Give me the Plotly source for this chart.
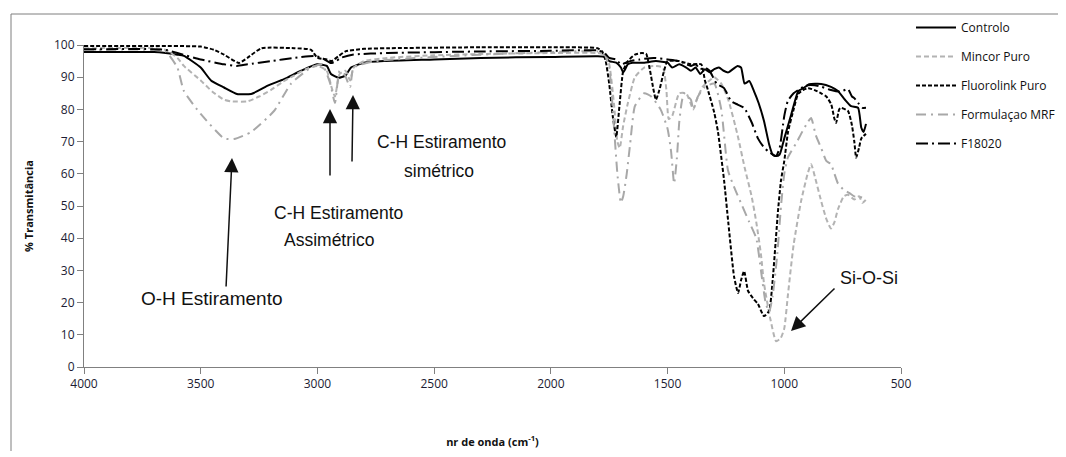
import plotly.graph_objects as go

# ---------------- data ----------------
controlo_wn = [4000, 3700, 3650, 3600, 3572, 3500, 3456, 3400, 3345, 3284, 3215, 3143, 3070, 3002, 2960, 2942, 2910, 2880, 2856, 2800, 2715, 2500, 2300, 2000, 1800, 1770, 1750, 1720, 1700, 1690, 1670, 1650, 1600, 1550, 1500, 1480, 1450, 1420, 1400, 1380, 1360, 1340, 1320, 1300, 1280, 1260, 1240, 1220, 1200, 1185, 1170, 1150, 1130, 1110, 1087, 1065, 1050, 1035, 1020, 1000, 970, 940, 920, 893, 842, 800, 770, 740, 714, 684, 670, 660, 650]
controlo_t = [97.8, 97.8, 97.5, 97.0, 96.6, 93.0, 89.0, 86.8, 84.8, 84.8, 87.3, 89.4, 92.0, 94.0, 93.5, 91.0, 89.8, 90.5, 93.0, 94.5, 95.0, 95.5, 96.0, 96.3, 96.5, 96.3, 95.0, 94.5, 93.0, 91.5, 94.0, 94.5, 94.5, 95.0, 94.5, 93.0, 94.0, 93.0, 92.0, 93.0, 91.0, 92.5, 91.5, 92.5, 93.0, 92.0, 91.5, 92.5, 93.5, 93.0, 88.0, 88.8, 85.7, 82.0, 76.4, 69.2, 66.0, 65.5, 66.0, 71.0, 78.5, 85.7, 86.5, 87.8, 87.9, 87.0, 85.7, 83.0, 81.0, 80.5, 74.3, 73.0, 75.5]

mincor_wn = [4000, 3700, 3650, 3600, 3572, 3500, 3450, 3400, 3370, 3300, 3250, 3200, 3150, 3100, 3050, 3000, 2960, 2940, 2925, 2905, 2880, 2860, 2845, 2800, 2700, 2500, 2300, 2000, 1800, 1770, 1750, 1730, 1715, 1705, 1690, 1670, 1640, 1600, 1560, 1520, 1505, 1495, 1480, 1450, 1420, 1390, 1375, 1350, 1320, 1300, 1270, 1240, 1200, 1170, 1140, 1120, 1100, 1087, 1060, 1035, 1015, 1000, 985, 960, 928, 900, 885, 865, 842, 820, 800, 785, 770, 745, 727, 700, 680, 665, 650]
mincor_t = [99.0, 99.0, 98.5, 96.0, 93.5, 89.0, 85.5, 83.0, 82.5, 82.5, 84.0, 86.0, 88.5, 90.5, 92.5, 93.5, 92.0, 87.0, 84.0, 91.0, 92.0, 89.0, 93.0, 95.0, 96.0, 96.8, 97.2, 97.5, 97.5, 97.0, 94.0, 82.0, 70.0, 68.0, 75.0, 82.0, 90.0, 93.0, 93.5, 93.0, 86.0, 77.0, 78.0, 85.0, 85.0, 80.0, 83.0, 87.0, 89.0, 90.0, 88.0, 83.0, 72.0, 62.0, 53.0, 45.0, 35.0, 26.0, 15.0, 8.0, 9.0, 12.0, 22.0, 38.0, 51.5, 60.0, 63.0, 58.0, 51.5, 46.0, 43.0, 45.0, 49.0, 53.0, 53.5, 52.0, 53.0, 51.0, 52.0]

fluoro_wn = [4000, 3700, 3500, 3443, 3400, 3336, 3300, 3240, 3100, 3027, 3000, 2960, 2940, 2910, 2880, 2800, 2700, 2300, 2000, 1800, 1780, 1765, 1750, 1735, 1720, 1705, 1690, 1670, 1640, 1610, 1592, 1575, 1560, 1550, 1535, 1515, 1500, 1450, 1400, 1356, 1340, 1327, 1300, 1284, 1258, 1240, 1215, 1198, 1185, 1172, 1155, 1130, 1113, 1087, 1065, 1050, 1027, 1014, 1000, 984, 960, 941, 920, 898, 870, 842, 820, 799, 785, 778, 765, 757, 727, 710, 700, 692, 680, 670, 650]
fluoro_t = [99.7, 99.7, 99.5, 98.5, 97.0, 94.4, 96.0, 99.0, 99.0, 98.5, 96.0, 95.5, 95.0, 96.5, 98.0, 98.8, 99.0, 99.3, 99.3, 99.0, 98.0, 95.0, 88.0, 78.0, 71.5, 82.0, 92.0, 95.0, 97.0, 97.5, 97.3, 92.0, 86.0, 83.0, 86.0, 92.0, 95.0, 95.0, 94.0, 94.0, 89.0, 86.0, 79.0, 73.0, 58.0, 45.0, 28.0, 23.0, 27.0, 29.8, 23.6, 21.0, 19.6, 15.8, 17.4, 26.7, 48.4, 58.0, 64.0, 73.0, 80.0, 84.8, 86.0, 86.6, 86.0, 85.0, 84.0, 81.6, 77.0, 75.8, 80.0, 80.5, 79.5, 75.0, 70.0, 65.0, 68.0, 71.0, 72.4]

formul_wn = [4000, 3700, 3650, 3600, 3572, 3500, 3400, 3357, 3284, 3186, 3113, 3027, 2980, 2945, 2925, 2905, 2885, 2860, 2845, 2750, 2300, 2000, 1800, 1770, 1750, 1730, 1715, 1700, 1690, 1675, 1660, 1640, 1600, 1570, 1530, 1500, 1485, 1472, 1460, 1450, 1440, 1430, 1400, 1390, 1370, 1340, 1300, 1270, 1241, 1210, 1180, 1150, 1120, 1100, 1080, 1065, 1050, 1030, 1014, 1000, 985, 970, 945, 928, 900, 885, 865, 842, 820, 800, 785, 770, 745, 720, 700, 680, 650]
formul_t = [98.5, 98.5, 98.0, 93.0, 85.7, 78.6, 71.0, 70.8, 73.0, 79.5, 88.0, 93.0, 94.0, 88.0, 82.0, 92.0, 91.0, 87.0, 93.0, 95.0, 97.0, 97.8, 98.0, 97.0, 93.0, 75.0, 60.0, 51.0, 53.0, 60.0, 69.5, 81.0, 85.0, 84.0, 80.0, 74.0, 67.0, 57.0, 65.0, 76.0, 82.0, 85.0, 83.0, 80.0, 84.0, 87.0, 88.0, 80.0, 61.0, 55.0, 50.0, 45.0, 40.0, 30.0, 20.0, 17.0, 22.0, 35.0, 50.0, 60.0, 65.0, 67.0, 70.0, 72.4, 76.0, 77.3, 72.0, 68.0, 64.0, 63.0, 60.0, 57.0, 55.0, 54.0, 53.0, 53.0, 52.0]

f18020_wn = [4000, 3700, 3650, 3600, 3500, 3400, 3345, 3300, 3200, 3100, 3015, 2980, 2942, 2920, 2900, 2850, 2700, 2300, 2000, 1800, 1770, 1750, 1720, 1700, 1660, 1620, 1560, 1500, 1450, 1420, 1400, 1380, 1360, 1340, 1320, 1290, 1258, 1228, 1200, 1172, 1140, 1113, 1090, 1070, 1050, 1035, 1020, 1000, 985, 960, 928, 900, 870, 840, 800, 760, 727, 710, 700, 680, 665, 650]
f18020_t = [98.7, 98.7, 98.5, 97.5, 95.5, 94.0, 93.5, 94.0, 95.0, 96.0, 96.6, 96.0, 94.4, 95.0, 96.0, 97.0, 97.5, 98.0, 98.2, 98.3, 97.5, 96.0, 95.5, 94.0, 95.0, 95.5, 96.0, 95.5, 95.0, 94.0, 93.5, 94.0, 92.5, 93.0, 92.0, 88.0, 86.6, 82.6, 81.5, 80.5, 76.0, 71.0, 68.5, 67.0, 66.0, 65.5, 68.0, 78.0, 82.6, 85.0, 86.6, 87.5, 87.5, 87.0, 86.0, 85.5, 86.3, 84.0, 83.5, 81.7, 80.5, 80.5]

series_names = ["Controlo", "Mincor Puro", "Fluorolink Puro", "Formulaçao MRF", "F18020"]
x_ticks = [4000, 3500, 3000, 2500, 2000, 1500, 1000, 500]
y_ticks = [0, 10, 20, 30, 40, 50, 60, 70, 80, 90, 100]

# ---------------- layout helpers (screen pixel -> paper) ----------------
OFF = 7  # page body offset seen in the screenshot
W, H = 1066 - 2 * OFF, 457 - 2 * OFF   # keep the page inside the window (no scrollbars)
L, R, T, B = 83 - OFF, 900 - OFF, 44 - OFF, 366 - OFF


def px(xp):
    return (xp - OFF - L) / (R - L)


def py(yp):
    return (B - (yp - OFF)) / (B - T)


styles = [
    dict(color="#000000", width=2, dash="solid"),
    dict(color="#b3b3b3", width=2, dash="5px,3px"),
    dict(color="#000000", width=2, dash="4px,2px"),
    dict(color="#a8a8a8", width=2, dash="10px,5px,2px,5px"),
    dict(color="#000000", width=2, dash="12px,4px,2px,4px"),
]
data = [(controlo_wn, controlo_t), (mincor_wn, mincor_t), (fluoro_wn, fluoro_t),
        (formul_wn, formul_t), (f18020_wn, f18020_t)]

fig = go.Figure()
for i, ((wn, tv), name, st) in enumerate(zip(data, series_names, styles)):
    fig.add_trace(go.Scatter(
        x=wn, y=tv, name=name, mode="lines",
        line=dict(color=st["color"], width=st["width"], dash=st["dash"],
                  shape="spline", smoothing=0.5),
        legendgroup=f"g{i}",
    ))

tick_font = dict(family="Open Sans", size=12, color="#1c1c33")
fig.update_layout(
    width=W, height=H,
    margin=dict(l=L, r=W - R, t=T, b=H - B, autoexpand=False),
    paper_bgcolor="white", plot_bgcolor="white",
    showlegend=True,
    legend=dict(x=px(910), y=py(12), xanchor="left", yanchor="top",
                font=dict(family="Open Sans", size=12, color="#111111"),
                itemwidth=40, tracegroupgap=10, bgcolor="rgba(0,0,0,0)",
                traceorder="grouped"),
    xaxis=dict(range=[4000, 500], tickvals=x_ticks, ticks="outside", ticklen=6,
               tickcolor="#808080", showline=True, linecolor="#808080", linewidth=1,
               showgrid=False, zeroline=False, tickfont=tick_font,
               title=dict(text="<b>nr de onda (cm<sup>-1</sup>)</b>",
                          font=dict(family="Open Sans", size=11, color="#111111"),
                          standoff=46)),
    yaxis=dict(range=[0, 100], tickvals=y_ticks, ticks="outside", ticklen=6,
               tickcolor="#808080", showline=True, linecolor="#808080", linewidth=1,
               showgrid=False, zeroline=False, tickfont=tick_font,
               title=dict(text="<b>% Transmitância</b>",
                          font=dict(family="Open Sans", size=11, color="#111111"),
                          standoff=18)),
)

# outer chart border: only top and left edges are visible in the reference
fig.add_shape(type="line", xref="paper", yref="paper",
              x0=px(10), y0=py(13), x1=px(1100), y1=py(13),
              line=dict(color="#7f7f7f", width=1), layer="below")
fig.add_shape(type="line", xref="paper", yref="paper",
              x0=px(10), y0=py(13), x1=px(10), y1=py(500),
              line=dict(color="#7f7f7f", width=1), layer="below")

texts = [
    ("O-H Estiramento", 210, 297, 19),
    ("C-H Estiramento", 440, 141, 17.5),
    ("simétrico", 438, 170, 17.5),
    ("C-H Estiramento", 337, 212, 17.5),
    ("Assimétrico", 328, 239, 17.5),
    ("Si-O-Si", 868, 277, 18),
]
for txt, xx, yy, fs in texts:
    fig.add_annotation(text=txt, x=px(xx), y=py(yy), xref="paper", yref="paper",
                       showarrow=False, xanchor="center", yanchor="middle",
                       font=dict(family="Liberation Sans", size=fs, color="#111111"))

arrows = [  # tip (x, y), tail offset (ax, ay)
    (231, 157, -6, 130),
    (329, 108, 0, 68),
    (352, 94, -1, 68),
    (790, 330, 45, -44),
]
for xx, yy, ax, ay in arrows:
    fig.add_annotation(text="", x=px(xx), y=py(yy), xref="paper", yref="paper",
                       showarrow=True, ax=ax, ay=ay, arrowhead=2, arrowsize=1.9,
                       arrowwidth=1.5, arrowcolor="#111111")

fig.write_html("out.html")
